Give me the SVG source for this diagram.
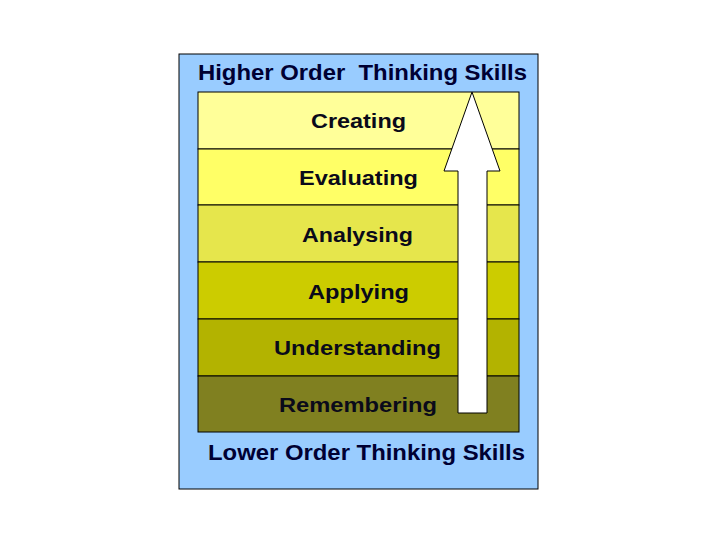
<svg xmlns="http://www.w3.org/2000/svg" width="720" height="540" viewBox="0 0 720 540">
<style>
.lbl{font-family:"Liberation Sans",Arial,sans-serif;font-weight:bold;font-size:21px;fill:#0a0a1a;text-anchor:middle}
.ttl{font-family:"Liberation Sans",Arial,sans-serif;font-weight:bold;font-size:22px;fill:#000033}
.lay{stroke:#000;stroke-width:1}
</style>
<rect x="0" y="0" width="720" height="540" fill="#fff"/>
<g id="frame">
<rect x="179" y="54" width="359" height="435" fill="#99ccff" stroke="#000" stroke-width="1"/>
<text class="ttl" x="198" y="80" textLength="329" lengthAdjust="spacingAndGlyphs" xml:space="preserve">Higher Order  Thinking Skills</text>
<text class="ttl" x="208" y="460" textLength="317" lengthAdjust="spacingAndGlyphs">Lower Order Thinking Skills</text>
</g>
<g id="creating"><rect class="lay" x="198" y="92" width="321" height="57" fill="#ffff99"/><text class="lbl" x="358.5" y="128" textLength="95" lengthAdjust="spacingAndGlyphs">Creating</text></g>
<g id="evaluating"><rect class="lay" x="198" y="149" width="321" height="56" fill="#ffff66"/><text class="lbl" x="358.5" y="185" textLength="119" lengthAdjust="spacingAndGlyphs">Evaluating</text></g>
<g id="analysing"><rect class="lay" x="198" y="205" width="321" height="57" fill="#e6e64c"/><text class="lbl" x="357.5" y="242" textLength="111" lengthAdjust="spacingAndGlyphs">Analysing</text></g>
<g id="applying"><rect class="lay" x="198" y="262" width="321" height="57" fill="#cccc00"/><text class="lbl" x="358.5" y="299" textLength="101" lengthAdjust="spacingAndGlyphs">Applying</text></g>
<g id="understanding"><rect class="lay" x="198" y="319" width="321" height="57" fill="#b3b300"/><text class="lbl" x="357.5" y="355" textLength="167" lengthAdjust="spacingAndGlyphs">Understanding</text></g>
<g id="remembering"><rect class="lay" x="198" y="376" width="321" height="56" fill="#808020"/><text class="lbl" x="358" y="412" textLength="158" lengthAdjust="spacingAndGlyphs">Remembering</text></g>
<g id="connectors">
<polygon points="472,92 500,171 487,171 487,413 458,413 458,171 444,171" fill="#fff" stroke="#000" stroke-width="1"/>
</g>
</svg>
